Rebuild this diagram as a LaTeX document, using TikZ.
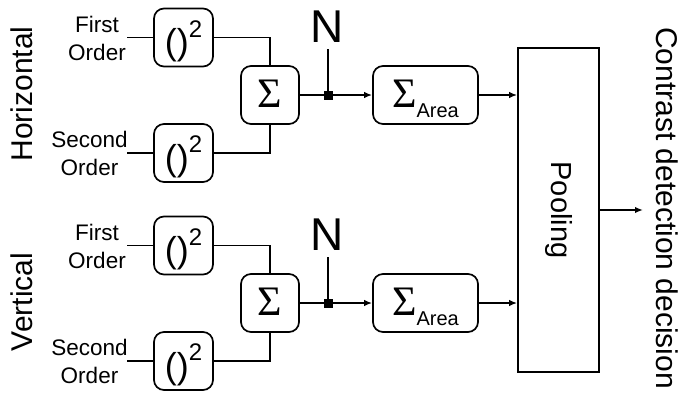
\documentclass[tikz,border=0pt]{standalone}
\usepackage{fontspec}
\setmainfont{Liberation Sans}
\newfontfamily\sigfont{Liberation Serif}
\usetikzlibrary{arrows.meta}
\newcommand{\myfs}[1]{\fontsize{#1}{#1}\selectfont}
\newcommand{\sqtxt}{\raisebox{0pt}[34pt][0pt]{{\myfs{36}()}\raisebox{17.5pt}{\myfs{24}2}}}
\newcommand{\sumtxt}{\raisebox{0pt}[24pt][0pt]{\sigfont\myfs{42}Σ}}
\newcommand{\areatxt}{\raisebox{0pt}[24pt][0pt]{{\sigfont\myfs{42}Σ}\raisebox{-10pt}{\myfs{20}Area}}}
\begin{document}
\begin{tikzpicture}[x=1pt,y=-1pt,line width=1.7pt,
  rbox/.style={draw,rounded corners=10pt,inner sep=0pt,minimum width=59pt,minimum height=58pt},
  abox/.style={rbox,minimum width=105pt},
  lbl/.style={align=center,font=\fontsize{22.5}{28}\selectfont,inner sep=0pt},
  side/.style={rotate=90,font=\myfs{30},inner sep=0pt},
  nlbl/.style={font=\myfs{46},inner sep=0pt},
  junc/.style={fill=black,draw=none,minimum size=9pt,inner sep=0pt},
  arr/.style={-{Latex[length=8pt,width=6.5pt]}}]
\useasboundingbox (0,0) rectangle (681,399);
\foreach \p/\dy/\nm in {h/0/Horizontal,v/208/Vertical}{
  \node[side] (\p side) at (22,94+\dy) {\nm};
  \node[lbl] (\p first) at (97,38+\dy) {First\\Order};
  \node[lbl] (\p second) at (89.5,153.5+\dy) {Second\\Order};
  \coordinate (\p in1) at (127,37.5+\dy);
  \coordinate (\p in2) at (127,153+\dy);
  \node[rbox] (\p b1) at (183.5,37.5+\dy) {\sqtxt};
  \node[rbox] (\p b2) at (183.5,153+\dy) {\sqtxt};
  \node[rbox,minimum width=58pt] (\p sum) at (270,95+\dy) {\sumtxt};
  \node[nlbl] (\p N) at (327,27+\dy) {N};
  \node[junc] (\p j) at (328,95+\dy) {};
  \node[abox] (\p area) at (425.5,95+\dy) {\areatxt};
  \draw (\p in1) -- (\p b1.west);
  \draw (\p in2) -- (\p b2.west);
  \draw (\p b1.east) -| (\p sum.north);
  \draw (\p b2.east) -| (\p sum.south);
  \draw (\p sum.east) -- (\p j.center);
  \draw ([yshift=-5.5pt]\p N.south -| \p j.center) -- (\p j.center);
  \draw[arr] (\p j.center) -- (\p area.west);
}
\node[draw,inner sep=0pt,minimum width=81pt,minimum height=324pt] (pool) at (558.5,210) {};
\node[rotate=-90,font=\myfs{29},inner sep=0pt] (pooltxt) at (pool.center) {Pooling};
\draw[arr] (harea.east) -- (harea.east -| pool.west);
\draw[arr] (varea.east) -- (varea.east -| pool.west);
\coordinate (out) at (643,210);
\draw[arr] (pool.east) -- (out);
\node[rotate=-90,font=\myfs{30},inner sep=0pt] (decision) at (667,208) {Contrast detection decision};
\end{tikzpicture}
\end{document}
